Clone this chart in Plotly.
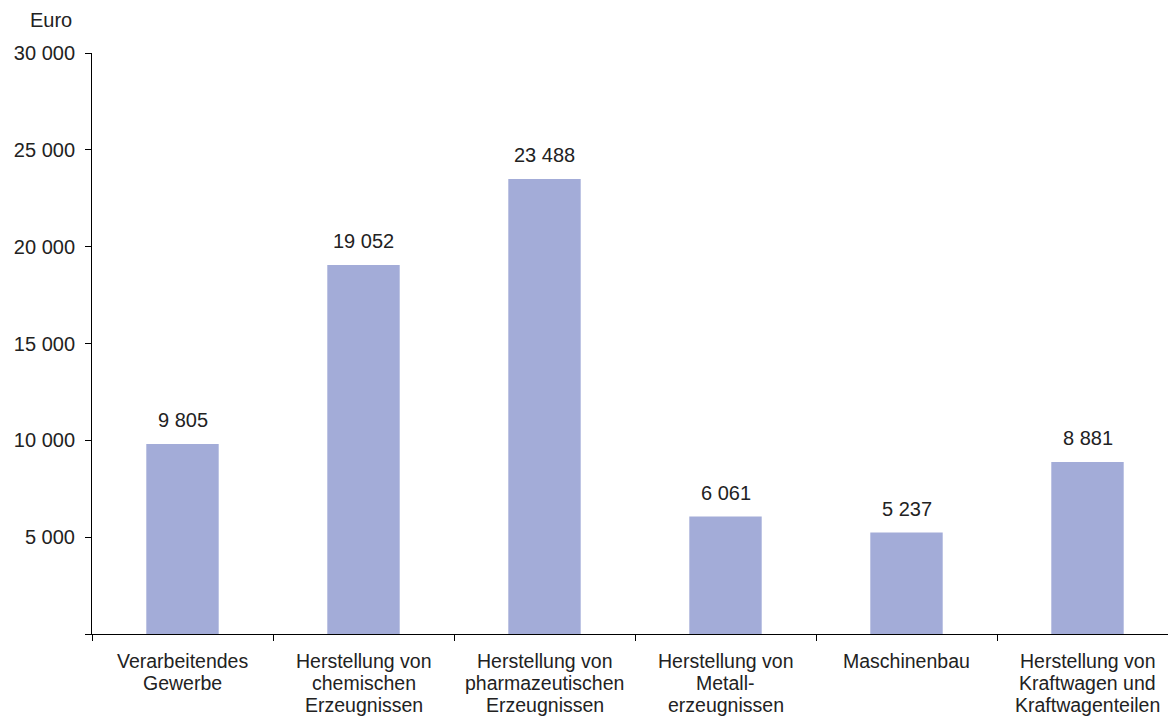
import plotly.graph_objects as go

categories = [
    "Verarbeitendes<br>Gewerbe",
    "Herstellung von<br>chemischen<br>Erzeugnissen",
    "Herstellung von<br>pharmazeutischen<br>Erzeugnissen",
    "Herstellung von<br>Metall-<br>erzeugnissen",
    "Maschinenbau",
    "Herstellung von<br>Kraftwagen und<br>Kraftwagenteilen",
]
values = [9805, 19052, 23488, 6061, 5237, 8881]
value_labels = ["9 805", "19 052", "23 488", "6 061", "5 237", "8 881"]
y_tickvals = [0, 5000, 10000, 15000, 20000, 25000, 30000]
y_ticktext = ["", "5 000", "10 000", "15 000", "20 000", "25 000", "30 000"]

fam = "Liberation Sans, Arial, sans-serif"
num_font = dict(family=fam, size=20, color="#222222")
cat_font = dict(family=fam, size=19.5, color="#222222")

fig = go.Figure(go.Bar(
    x=categories, y=values,
    marker=dict(color="#a3acd8", line=dict(width=0)),
    width=0.4,
))

annotations = [
    dict(x=c, y=v, text=t, xref="x", yref="y", showarrow=False,
         yanchor="bottom", yshift=11, font=num_font)
    for c, v, t in zip(categories, values, value_labels)
]
# category labels, one annotation per line for tight line spacing
for c in categories:
    for i, line in enumerate(c.split("<br>")):
        annotations.append(dict(
            x=c, y=0, xref="x", yref="paper", text=line, showarrow=False,
            xanchor="center", yanchor="middle", yshift=-27 - 22 * i,
            font=cat_font,
        ))
annotations.append(dict(
    text="Euro", xref="paper", yref="paper", x=-0.0589, y=1.0, yshift=33,
    xanchor="left", yanchor="middle", showarrow=False, font=num_font,
))

fig.update_layout(
    width=1176, height=717,
    margin=dict(l=84, r=6, t=45, b=91),
    paper_bgcolor="white", plot_bgcolor="white",
    font=num_font,
    showlegend=False,
    xaxis=dict(
        showline=True, linecolor="#000000", linewidth=1,
        ticks="outside", tickson="boundaries", ticklen=6, tickcolor="#000000",
        showgrid=False, showticklabels=False,
    ),
    yaxis=dict(
        range=[0, 30000],
        tickvals=y_tickvals, ticktext=y_ticktext,
        showline=True, linecolor="#000000", linewidth=1,
        ticks="outside", ticklen=6, tickcolor="#000000",
        showgrid=False, zeroline=False, tickfont=num_font,
        ticklabelstandoff=6,
    ),
    annotations=annotations,
)

fig.write_html("out.html")
